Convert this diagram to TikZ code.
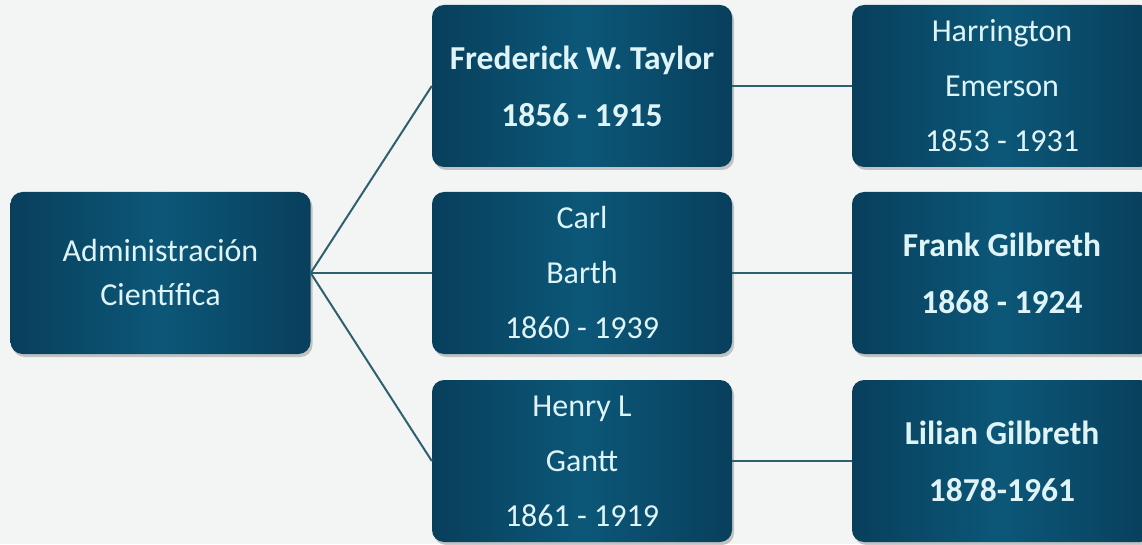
\documentclass[tikz,border=0pt]{standalone}
\usepackage{fontspec}
\setmainfont{Carlito}
\usetikzlibrary{shadows}

\definecolor{bgcol}{HTML}{F3F5F4}
\definecolor{boxedge}{HTML}{083F5C}
\definecolor{boxmid}{HTML}{0C5778}
\definecolor{boxtext}{HTML}{DFF4F6}
\definecolor{linkcol}{HTML}{2E6170}

\tikzset{
  person/.style={rounded corners=12pt, minimum width=300pt, minimum height=162pt,
    inner sep=0pt, align=center, text=boxtext,
    left color=boxedge, right color=boxedge, middle color=boxmid,
    drop shadow={shadow xshift=2pt, shadow yshift=-3pt, opacity=0.35, fill=black!60},
    font=\fontsize{32}{55}\selectfont},
  famous/.style={person, font=\fontsize{33.5}{57}\selectfont\bfseries},
  link/.style={draw=linkcol, line width=2pt},
}

\begin{document}
\begin{tikzpicture}[x=1pt,y=1pt]
  \fill [bgcol] (0,0) rectangle (1142,544);
  \useasboundingbox (0,0) rectangle (1142,544);
  % root
  \node [person, font=\fontsize{32}{44}\selectfont] (admin) at (160.5,271) {Administración\\Científica};
  % middle column
  \node [famous] (taylor) at (582,458) {Frederick W. Taylor\\1856 - 1915};
  \node [person] (barth) at (582,271) {Carl\\Barth\\1860 - 1939};
  \node [person] (gantt) at (582,83) {Henry L\\Gantt\\1861 - 1919};
  % right column
  \node [person] (emerson) at (1002,458) {Harrington\\Emerson\\1853 - 1931};
  \node [famous] (fgilbreth) at (1002,271) {Frank Gilbreth\\1868 - 1924};
  \node [famous] (lgilbreth) at (1002,83) {Lilian Gilbreth\\1878-1961};
  \foreach \p in {taylor,barth,gantt} {
    \draw [link] (admin.east) -- (\p.west);
  }
  \draw [link] (taylor) -- (emerson);
  \draw [link] (barth) -- (fgilbreth);
  \draw [link] (gantt) -- (lgilbreth);
\end{tikzpicture}
\end{document}
